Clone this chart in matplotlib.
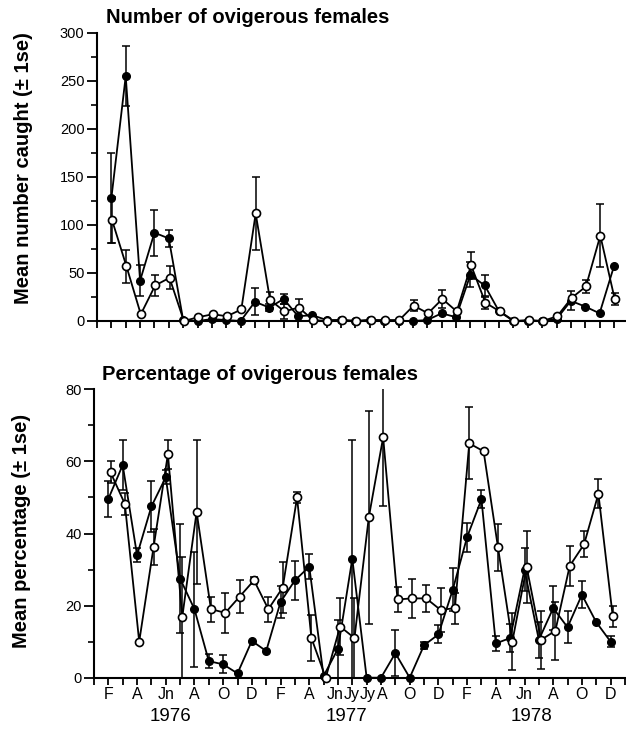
import numpy as np
import matplotlib
matplotlib.use("Agg")
import matplotlib.pyplot as plt

plt.rcParams['font.family'] = ['Liberation Sans', 'DejaVu Sans']

# sampling occasions (index along the time axis)
samples = np.arange(1, 37)

# ---- Number of ovigerous females ----
num_filled = [128, 255, 42, 92, 86, 1, 0, 2, 1, 0, 20, 14, 23, 5, 6, 1, 1, 0,
              1, 0, 0, 0, 1, 8, 4, 48, 37, 10, 0, 0, 0, 2, 21, 15, 8, 57]
num_filled_se = [47, 31, 16, 24, 9, 0, 0, 0, 0, 0, 14, 4, 5, 0, 0, 0, 0, 0,
                 0, 0, 0, 0, 0, 0, 0, 13, 11, 0, 0, 0, 0, 0, 10, 0, 0, 0]
num_open = [105, 57, 7, 37, 45, 0, 4, 7, 5, 12, 112, 22, 10, 14, 1, 0, 1, 0,
            1, 1, 1, 16, 8, 23, 10, 58, 19, 10, 0, 1, 0, 5, 24, 36, 89, 23]
num_open_se = [24, 17, 0, 11, 12, 0, 0, 0, 0, 0, 38, 8, 8, 9, 0, 0, 0, 0,
               0, 0, 0, 6, 0, 9, 0, 14, 6, 0, 0, 0, 0, 0, 0, 7, 33, 6]

# ---- Percentage of ovigerous females ----
pct_filled = [49.6, 59, 34, 47.5, 55.6, 27.5, 19, 4.6, 3.7, 1.2, 10.2, 7.4, 21, 27,
              30.8, 0.5, 8, 33, 0, 0, 6.8, 0, 9, 12, 24.4, 39, 49.5, 9.5, 11, 30,
              10.5, 19.3, 14, 23, 15.4, 10]
pct_filled_se = [5, 7, 2, 7, 2, 15, 16, 2, 2.5, 0, 0, 0, 4.5, 5.5, 3.5, 0, 8, 33,
                 0, 0, 6.4, 0, 1, 2.5, 6, 4, 2.5, 2, 4, 6, 5, 6, 4.5, 3.8, 0, 1.5]
pct_open = [57, 48.2, 10, 36.2, 62, 16.8, 46, 19, 18, 22.5, 27, 19, 25, 50, 11, 0,
            14.2, 11, 44.5, 66.7, 21.7, 22, 22, 18.8, 19.3, 65, 62.8, 36.2, 10, 30.7,
            10.5, 13, 31, 37, 51, 17]
pct_open_se = [3, 3, 0, 5, 4, 16.8, 20, 3.5, 5.5, 4.5, 1, 3.5, 7, 1.5, 6.5, 0, 8, 11,
               29.5, 19, 3.5, 5.5, 3.8, 6, 4.3, 10, 0.5, 6.5, 8, 10, 8, 8, 5.5, 3.6,
               4, 3]

month_ticks = [1, 3, 5, 7, 9, 11, 13, 15, 17, 18, 19, 20, 22, 24, 26, 28, 30, 32, 34, 36]
month_labels = ['F', 'A', 'Jn', 'A', 'O', 'D', 'F', 'A', 'Jn', 'Jy', 'Jy', 'A',
                'O', 'D', 'F', 'A', 'Jn', 'A', 'O', 'D']
years = ['1976', '1977', '1978']
year_pos = [5.3, 17.6, 30.5]

W, H = 626, 731
fig = plt.figure(figsize=(W / 100, H / 100), dpi=100)


def px_axes(left, top, right, bottom):
    return fig.add_axes([left / W, 1 - bottom / H, (right - left) / W, (bottom - top) / H])


def draw(ax, xf, yf, ef, xo, yo, eo):
    lw = 1.3
    xf = np.asarray(xf, float); yf = np.asarray(yf, float); ef = np.asarray(ef, float)
    xo = np.asarray(xo, float); yo = np.asarray(yo, float); eo = np.asarray(eo, float)
    mf = ef > 0
    ax.errorbar(xf[mf], yf[mf], yerr=ef[mf], fmt='none', ecolor='black',
                elinewidth=1.1, capsize=2.6, capthick=1.1, zorder=2)
    mo = eo > 0
    ax.errorbar(xo[mo], yo[mo], yerr=eo[mo], fmt='none', ecolor='black',
                elinewidth=1.1, capsize=2.6, capthick=1.1, zorder=2)
    ax.plot(xf, yf, '-', color='black', lw=lw, marker='o', ms=5.5,
            mfc='black', mec='black', clip_on=False, zorder=3)
    ax.plot(xo, yo, '-', color='black', lw=lw, marker='o', ms=5.8,
            mfc='white', mec='black', mew=1.2, clip_on=False, zorder=4)


def style(ax, ymax, major, minor):
    for s in ['top', 'right']:
        ax.spines[s].set_visible(False)
    for s in ['left', 'bottom']:
        ax.spines[s].set_linewidth(1.5)
    ax.set_ylim(0, ymax)
    ax.set_yticks(np.arange(0, ymax + 0.1, major))
    ax.set_yticks(np.arange(minor, ymax, major), minor=True)
    ax.tick_params(axis='y', which='major', direction='out', length=7, width=1.3,
                   labelsize=10.5, pad=2)
    ax.tick_params(axis='y', which='minor', direction='out', length=4, width=1.2)
    ax.tick_params(axis='x', which='major', direction='out', length=5, width=1.3)


# ---- top panel ----
ax1 = px_axes(97, 33, 626, 321)
draw(ax1, samples, num_filled, num_filled_se, samples + 0.05, num_open, num_open_se)
style(ax1, 300, 50, 25)
ax1.set_xlim(0, (626 - 97) / 14.36)
ax1.set_xticks(np.arange(0, 37))
ax1.set_xticklabels([])
fig.text(106 / W, 1 - 23 / H, 'Number of ovigerous females', fontsize=14.5,
         fontweight='bold', ha='left', va='baseline')
fig.text(24 / W, 1 - 168 / H, 'Mean number caught (\u00b1 1se)', fontsize=14.5,
         fontweight='bold', rotation=90, ha='center', va='center')

# ---- bottom panel ----
ax2 = px_axes(94, 389.3, 626, 677.7)
draw(ax2, samples, pct_filled, pct_filled_se, samples + 0.15, pct_open, pct_open_se)
style(ax2, 80, 20, 10)
ax2.set_xlim(0, (626 - 94) / 14.35)
ax2.set_xticks(np.arange(0, 38))
ax2.set_xticklabels([])
# month labels: the crowded mid-1977 group is nudged apart slightly
nudge = {17: -0.2, 18: -0.05, 19: 0.08, 20: 0.12}
xtr = ax2.get_xaxis_transform()
for t, l in zip(month_ticks, month_labels):
    ax2.text(t + nudge.get(t, 0), -0.058, l, transform=xtr, fontsize=11.5,
             ha='center', va='center')
for yr, xp in zip(years, year_pos):
    ax2.text(xp, -0.135, yr, transform=xtr, fontsize=13.5,
             ha='center', va='center')
fig.text(102 / W, 1 - 380 / H, 'Percentage of ovigerous females', fontsize=14.5,
         fontweight='bold', ha='left', va='baseline')
fig.text(22 / W, 1 - 531 / H, 'Mean percentage (\u00b1 1se)', fontsize=14.5,
         fontweight='bold', rotation=90, ha='center', va='center')

fig.savefig('out.png', dpi=100)
